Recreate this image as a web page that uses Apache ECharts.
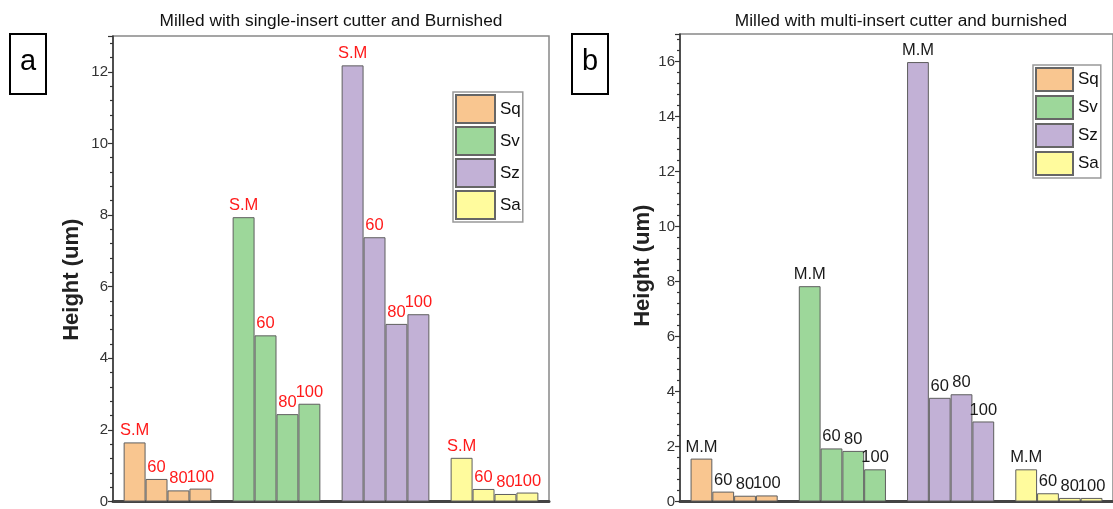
<!DOCTYPE html>
<html>
<head>
<meta charset="utf-8">
<script src="https://cdn.jsdelivr.net/npm/echarts@6/dist/echarts.min.js"></script>
<style>
html,body{margin:0;padding:0;background:#fff;}
#chart{width:1113px;height:509px;}
</style>
</head>
<body>
<div id="chart"></div>
<script>
// ---- data ----
const groups = ['Sq', 'Sv', 'Sz', 'Sa'];
const groupColors = ['#F9C690', '#9DD79A', '#C2B1D6', '#FFFB9D'];
const condA = ['S.M', '60', '80', '100'];
const condB = ['M.M', '60', '80', '100'];
const yTicksA = [0, 2, 4, 6, 8, 10, 12];
const yTicksB = [0, 2, 4, 6, 8, 10, 12, 14, 16];
// panel a (single-insert) values per group: [S.M, 60, 80, 100]
const sqA = [1.65, 0.63, 0.31, 0.36];
const svA = [7.94, 4.64, 2.44, 2.73];
const szA = [12.18, 7.38, 4.96, 5.23];
const saA = [1.22, 0.35, 0.21, 0.25];
// panel b (multi-insert) values per group: [M.M, 60, 80, 100]
const sqB = [1.56, 0.36, 0.21, 0.22];
const svB = [7.83, 1.93, 1.84, 1.17];
const szB = [15.98, 3.77, 3.90, 2.91];
const saB = [1.17, 0.30, 0.13, 0.13];
const titleA = 'Milled with single-insert cutter and Burnished';
const titleB = 'Milled with multi-insert cutter and burnished';
const yName = 'Height (um)';

const FONT = "'Liberation Sans',Arial,sans-serif";

const valuesA = [sqA, svA, szA, saA];
const valuesB = [sqB, svB, szB, saB];

function panelSeries(gi, values, conds, labelColor, labelSize) {
  return conds.map((c, i) => ({
    type: 'bar', name: c, xAxisIndex: gi, yAxisIndex: gi,
    barGap: '0%', barCategoryGap: '19.5%',
    data: groups.map((g, j) => ({ value: values[j][i], itemStyle: { color: groupColors[j] } })),
    itemStyle: { borderColor: '#5e5e5e', borderWidth: 1 },
    label: { show: true, position: 'top', distance: 3, formatter: c, color: labelColor,
             fontSize: labelSize, fontFamily: FONT },
    silent: true
  }));
}

function yAxisCfg(gi, max, ticks, nameGap, namePad) {
  return {
    gridIndex: gi, type: 'value', min: 0, max: max, interval: 2,
    name: yName, nameLocation: 'middle', nameGap: nameGap,
    nameTextStyle: { fontSize: 22, fontWeight: 'bold', fontFamily: FONT, color: '#222', padding: namePad },
    axisLine: { show: true, lineStyle: { color: '#333', width: 1.5 } },
    axisTick: { show: true, length: 5, lineStyle: { color: '#333', width: 1.2 } },
    minorTick: { show: true, splitNumber: 5, length: 3, lineStyle: { color: '#333', width: 1.2 } },
    splitLine: { show: false },
    axisLabel: { fontSize: 15, fontFamily: FONT, color: '#333', margin: 5, showMaxLabel: false,
                 formatter: v => (ticks.indexOf(v) >= 0 ? String(v) : '') }
  };
}

function xAxisCfg(gi) {
  return {
    gridIndex: gi, type: 'category', data: groups,
    axisLine: { show: true, lineStyle: { color: '#444', width: 3 } },
    axisTick: { show: false }, axisLabel: { show: false }, splitLine: { show: false }
  };
}

const legendCommon = {
  orient: 'vertical', data: groups, icon: 'rect',
  backgroundColor: '#fff', borderColor: '#999', borderWidth: 1.5,
  textStyle: { fontFamily: FONT, fontSize: 17, color: '#111' },
  selectedMode: false
};

const chart = echarts.init(document.getElementById('chart'), null, { renderer: 'canvas' });
chart.setOption({
  animation: false,
  backgroundColor: '#fff',
  title: [
    { text: titleA, left: 331, top: 13, textAlign: 'center', padding: 0,
      textStyle: { fontFamily: FONT, fontSize: 17.3, fontWeight: 'normal', color: '#111' } },
    { text: titleB, left: 901, top: 13, textAlign: 'center', padding: 0,
      textStyle: { fontFamily: FONT, fontSize: 17.3, fontWeight: 'normal', color: '#111' } }
  ],
  legend: [
    Object.assign({}, legendCommon, { left: 453, top: 92, padding: 2, itemGap: 2, itemWidth: 39, itemHeight: 28 }),
    Object.assign({}, legendCommon, { left: 1033, top: 65, padding: 2, itemGap: 3, itemWidth: 37, itemHeight: 23 })
  ],
  grid: [
    { left: 113, top: 36, right: 564, bottom: 4, show: true, borderColor: '#888', borderWidth: 1.5, backgroundColor: 'transparent' },
    { left: 680, top: 34, right: -10, bottom: 2, show: true, borderColor: '#888', borderWidth: 1.5, backgroundColor: 'transparent' },
    { left: 0, top: 0, width: 1, height: 1, show: false }
  ],
  xAxis: [
    xAxisCfg(0), xAxisCfg(1),
    { gridIndex: 2, type: 'category', data: ['x'], show: false }
  ],
  yAxis: [
    yAxisCfg(0, 13, yTicksA, 30, [0, 22, 0, 0]),
    yAxisCfg(1, 17, yTicksB, 26, [0, 0, 0, 4]),
    { gridIndex: 2, type: 'value', show: false }
  ],
  graphic: [
    { type: 'rect', shape: { x: 10, y: 34, width: 36, height: 60 }, style: { fill: '#fff', stroke: '#000', lineWidth: 2 } },
    { type: 'text', x: 28, y: 62, style: { text: 'a', fontSize: 29, fontFamily: FONT, fill: '#000', textAlign: 'center', textVerticalAlign: 'middle' } },
    { type: 'rect', shape: { x: 572, y: 34, width: 36, height: 60 }, style: { fill: '#fff', stroke: '#000', lineWidth: 2 } },
    { type: 'text', x: 590, y: 62, style: { text: 'b', fontSize: 29, fontFamily: FONT, fill: '#000', textAlign: 'center', textVerticalAlign: 'middle' } }
  ],
  series: [].concat(
    panelSeries(0, valuesA, condA, '#ff1a1a', 16.5),
    panelSeries(1, valuesB, condB, '#1a1a1a', 16.5),
    groups.map((g, j) => ({
      type: 'bar', name: g, xAxisIndex: 2, yAxisIndex: 2, data: [],
      itemStyle: { color: groupColors[j], borderColor: '#666', borderWidth: 1 }
    }))
  )
});
</script>
</body>
</html>
